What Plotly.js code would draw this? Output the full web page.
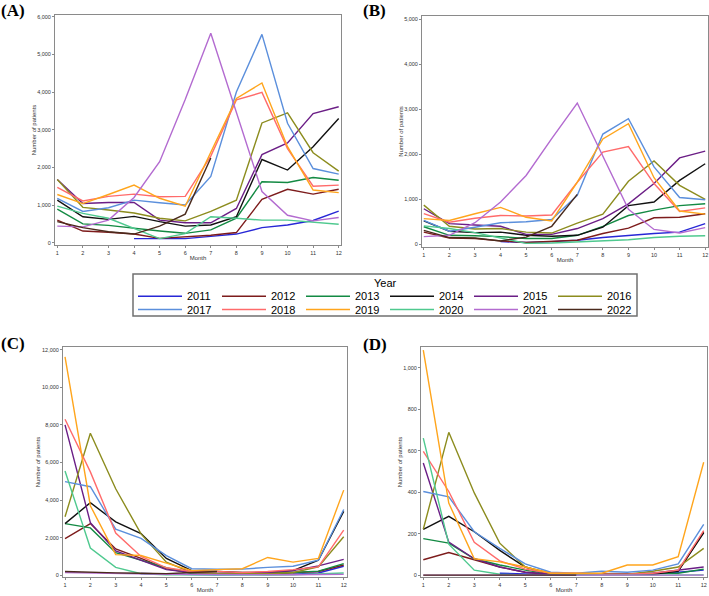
<!DOCTYPE html>
<html>
<head>
<meta charset="utf-8">
<script src="https://cdn.plot.ly/plotly-3.0.1.min.js"></script>
<style>
  body { margin: 0; background: #fff; }
  #chart { width: 709px; height: 596px; }
</style>
</head>
<body>
<div id="chart"></div>
<script>
const months = [1, 2, 3, 4, 5, 6, 7, 8, 9, 10, 11, 12];
const years = ['2011', '2012', '2013', '2014', '2015', '2016', '2017', '2018', '2019', '2020', '2021', '2022'];
const colors = ['#2727d6', '#7d1c1c', '#138a43', '#111111', '#6b1e86', '#8c8c1e',
                '#5b8fdc', '#ff6b6b', '#ffa51c', '#4fc98f', '#b36bd0', '#4a2a1c'];

// Panel (A), one row per year, Jan..Dec
const patientsA = [
    [null, null, null, 110, 100, 110, 170, 230, 400, 470, 590, 840],
    [600, 310, 280, 230, 115, 150, 200, 270, 1150, 1420, 1290, 1420],
    [890, 500, 460, 380, 310, 250, 340, 650, 1620, 1600, 1730, 1660],
    [1130, 690, 620, 700, 560, 440, 470, 690, 2210, 1930, 2550, 3300],
    [1680, 1040, 1070, 1070, 600, 530, 530, 910, 2340, 2650, 3430, 3610],
    [1680, 940, 870, 790, 650, 580, 830, 1130, 3180, 3450, 2390, 1900],
    [1180, 830, 930, 1130, 1060, 1000, 1760, 4000, 5530, 3170, 1970, 1820],
    [1470, 1110, 1230, 1290, 1220, 1230, 2300, 3790, 3990, 2500, 1500, 1530],
    [1280, 1040, 1280, 1530, 1180, 970, 2400, 3830, 4240, 2550, 1400, 1330],
    [970, 780, 650, 380, 110, 240, 690, 650, 600, 600, 540, 490],
    [440, 420, 600, 1200, 2150, 3800, 5560, 3480, 1360, 730, 580, 670],
    [560, 400, 290, 230, 440, 760, 2250, null, null, null, null, null]
];

// Panel (B)
const patientsB = [
    [null, null, null, 60, 40, 60, 90, 150, 200, 240, 270, 460],
    [270, 140, 130, 75, 40, 60, 90, 240, 360, 590, 600, 680],
    [390, 200, 190, 170, 130, 130, 200, 400, 640, 760, 860, 900],
    [520, 290, 260, 270, 200, 180, 200, 380, 860, 940, 1420, 1790],
    [790, 460, 430, 400, 220, 220, 350, 570, 900, 1350, 1920, 2070],
    [870, 400, 340, 350, 270, 250, 470, 670, 1400, 1850, 1310, 1000],
    [530, 290, 380, 480, 500, 550, 1090, 2450, 2790, 1720, 1040, 990],
    [680, 490, 580, 640, 630, 650, 1380, 2050, 2170, 1350, 730, 810],
    [570, 530, 680, 820, 600, 520, 1380, 2340, 2680, 1480, 740, 670],
    [410, 350, 260, 140, 20, 30, 50, 70, 100, 150, 180, 190],
    [170, 200, 480, 940, 1530, 2350, 3140, 1950, 780, 330, 250, 370],
    [310, 150, 140, 75, 160, 400, 1110, null, null, null, null, null]
];

// Panel (C)
const patientsC = [
    [null, null, null, 100, 60, 40, 30, 30, 40, 60, 120, 480],
    [1950, 2750, 1400, 900, 350, 120, 80, 60, 80, 150, 200, 550],
    [2750, 2520, 1200, 800, 400, 100, 50, 50, 80, 150, 220, 620],
    [2750, 3860, 2840, 2220, 900, 250, 200, 150, 150, 250, 800, 3400],
    [8000, 2800, 1300, 800, 300, 150, 100, 100, 150, 250, 500, 850],
    [3110, 7550, 4600, 2200, 700, 150, 100, 80, 80, 150, 450, 2050],
    [4980, 4710, 2450, 1960, 1050, 350, 320, 330, 420, 480, 800, 3500],
    [8300, 5500, 2250, 1000, 400, 200, 200, 150, 200, 300, 450, 2400],
    [11610, 3700, 1100, 1050, 650, 250, 300, 350, 950, 700, 900, 4530],
    [5550, 1450, 420, 80, 30, 20, 20, 20, 20, 30, 60, 120],
    [150, 120, 110, 80, 60, 50, 40, 40, 30, 30, 40, 50],
    [200, 150, 130, 110, 90, 150, 200, null, null, null, null, null]
];

// Panel (D)
const patientsD = [
    [null, null, null, 10, 5, 3, 3, 5, 5, 8, 15, 25],
    [75, 110, 75, 40, 15, 5, 5, 5, 5, 5, 20, 210],
    [177, 155, 80, 50, 25, 5, 5, 5, 5, 10, 10, 30],
    [222, 284, 210, 120, 40, 5, 5, 5, 5, 5, 20, 205],
    [541, 160, 80, 40, 15, 5, 5, 5, 5, 10, 25, 40],
    [222, 689, 397, 155, 40, 10, 5, 5, 5, 20, 40, 130],
    [404, 378, 210, 130, 55, 15, 10, 20, 15, 25, 55, 245],
    [597, 404, 159, 70, 30, 10, 10, 5, 5, 10, 25, 215],
    [1085, 348, 80, 65, 40, 10, 10, 10, 50, 50, 90, 545],
    [661, 150, 25, 5, 2, 1, 1, 1, 1, 1, 1, 2],
    [1, 1, 1, 1, 1, 1, 1, 1, 1, 1, 1, 1],
    [1, 1, 1, 1, 1, 1, 1, null, null, null, null, null]
];

const W = 709, H = 596;
const px = x => x / W;
const py = y => 1 - y / H;

const panels = [
    {data: patientsA, label: '(A)', lx: 13, ly: 10, box: [55, 341, 15, 245], xr: [0.91, 12.09], yr: [-60, 6045], dtick: 1000},
    {data: patientsB, label: '(B)', lx: 375, ly: 10, box: [422, 708, 16, 247], xr: [0.93, 12.11], yr: [-60, 5073], dtick: 1000},
    {data: patientsC, label: '(C)', lx: 13, ly: 343, box: [63, 347, 347, 577], xr: [0.92, 12.13], yr: [-90, 12140], dtick: 2000},
    {data: patientsD, label: '(D)', lx: 375, ly: 344, box: [421, 707, 347, 577], xr: [0.91, 12.13], yr: [-8, 1100], dtick: 200}
];

const smallFont = {family: 'Liberation Sans, Arial, sans-serif', size: 5.5, color: '#333'};
const axisBase = {
    showline: true, mirror: true, linecolor: '#8a8a8a', linewidth: 1,
    ticks: 'outside', ticklen: 2, tickcolor: '#8a8a8a', tickwidth: 1,
    showgrid: false, zeroline: false, tickfont: smallFont, fixedrange: true
};

const traces = [];
const layout = {
    width: W, height: H,
    margin: {l: 0, r: 0, t: 0, b: 0},
    paper_bgcolor: '#fff', plot_bgcolor: '#fff',
    font: {family: 'Liberation Sans, Arial, sans-serif', color: '#000'},
    showlegend: true,
    shapes: [],
    annotations: []
};

panels.forEach((p, k) => {
    const n = k === 0 ? '' : String(k + 1);
    layout['xaxis' + n] = Object.assign({}, axisBase, {
        domain: [px(p.box[0]), px(p.box[1])],
        anchor: 'y' + n, range: p.xr, tick0: 1, dtick: 1,
        title: {text: 'Month', font: Object.assign({}, smallFont, {size: 6}), standoff: 1}
    });
    layout['yaxis' + n] = Object.assign({}, axisBase, {
        domain: [py(p.box[3]), py(p.box[2])],
        anchor: 'x' + n, range: p.yr, tick0: 0, dtick: p.dtick, tickformat: ',d',
        title: {text: 'Number of patients', font: Object.assign({}, smallFont, {size: 6}), standoff: 0}
    });
    p.data.forEach((vals, i) => {
        traces.push({
            x: months, y: vals, name: years[i],
            xaxis: 'x' + n, yaxis: 'y' + n,
            type: 'scatter', mode: 'lines', connectgaps: false,
            line: {color: colors[i], width: 1.4},
            showlegend: k === 0,
            legend: i < 6 ? 'legend' : 'legend2',
            hoverinfo: 'skip'
        });
    });
    layout.annotations.push({
        text: '<b>' + p.label + '</b>', xref: 'paper', yref: 'paper',
        x: px(p.lx), y: py(p.ly), xanchor: 'center', yanchor: 'middle', showarrow: false,
        font: {family: 'Liberation Serif, Times New Roman, serif', size: 17, color: '#000'}
    });
});

const legendBase = {
    orientation: 'h', xanchor: 'left', yanchor: 'top', x: px(133),
    font: {family: 'Liberation Sans, Arial, sans-serif', size: 11, color: '#000'},
    bgcolor: 'rgba(0,0,0,0)', borderwidth: 0,
    entrywidth: 25, entrywidthmode: 'pixels', itemwidth: 44, traceorder: 'normal'
};
layout.legend = Object.assign({}, legendBase, {y: py(281.7)});
layout.legend2 = Object.assign({}, legendBase, {y: py(295)});

layout.shapes.push({
    type: 'rect', xref: 'paper', yref: 'paper',
    x0: px(133), x1: px(637), y0: py(316), y1: py(274),
    line: {color: '#707070', width: 1.5}
});
layout.annotations.push({
    text: 'Year', xref: 'paper', yref: 'paper', x: px(385), y: py(283),
    xanchor: 'center', yanchor: 'middle', showarrow: false,
    font: {family: 'Liberation Sans, Arial, sans-serif', size: 11, color: '#000'}
});

Plotly.newPlot('chart', traces, layout, {displayModeBar: false, staticPlot: true});
</script>
</body>
</html>
